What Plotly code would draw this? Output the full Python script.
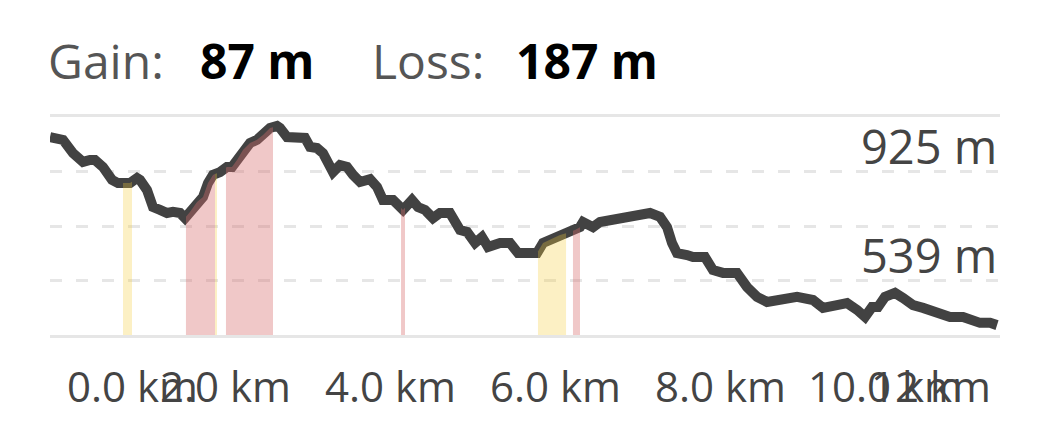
import numpy as np
import plotly.graph_objects as go

# ---------------- data ----------------
DIST_KM = [0.00, 0.158, 0.279, 0.40, 0.485, 0.545, 0.642, 0.752, 0.824, 0.97,
           1.055, 1.091, 1.176, 1.248, 1.333, 1.418, 1.491, 1.576, 1.636, 1.697,
           1.782, 1.855, 1.915, 1.976, 2.061, 2.145, 2.206, 2.267, 2.339, 2.424,
           2.509, 2.582, 2.667, 2.752, 2.788, 2.873, 2.994, 3.091, 3.152, 3.236,
           3.309, 3.394, 3.43, 3.515, 3.60, 3.673, 3.758, 3.879, 3.964, 4.036,
           4.158, 4.279, 4.388, 4.461, 4.545, 4.642, 4.727, 4.848, 4.97, 5.055,
           5.152, 5.236, 5.309, 5.455, 5.576, 5.673, 5.782, 5.903, 5.976, 6.097,
           6.182, 6.267, 6.364, 6.424, 6.461, 6.582, 6.667, 6.788, 6.909, 7.03,
           7.152, 7.273, 7.394, 7.479, 7.539, 7.60, 7.721, 7.794, 7.939, 8.036,
           8.158, 8.327, 8.448, 8.57, 8.691, 8.848, 9.055, 9.248, 9.37, 9.539,
           9.661, 9.782, 9.879, 9.964, 10.036, 10.121, 10.242, 10.339, 10.461, 10.582,
           10.752, 10.909, 11.067, 11.188, 11.273, 11.394, 11.479]
ELEV_M = [1047, 1037, 990, 959, 966, 966, 941, 895, 884, 884,
          902, 895, 859, 799, 789, 778, 782, 778, 760, 782,
          817, 835, 884, 913, 923, 941, 941, 966, 1001, 1026,
          1037, 1054, 1079, 1086, 1079, 1047, 1044, 1044, 1012, 1008,
          990, 941, 923, 948, 941, 913, 888, 898, 870, 824,
          824, 789, 824, 799, 789, 760, 778, 778, 718, 711,
          672, 693, 658, 672, 672, 636, 640, 636, 672, 689,
          700, 707, 718, 728, 746, 728, 746, 753, 764, 771,
          771, 778, 764, 728, 672, 636, 629, 622, 622, 576,
          566, 566, 516, 481, 463, 470, 481, 470, 442, 452,
          459, 435, 410, 445, 445, 481, 495, 477, 452, 442,
          427, 410, 410, 399, 389, 389, 381]

# highlighted grade segments (km start, km end, kind)
SEG_START = [0.885, 1.648, 2.000, 2.133, 4.255, 5.915, 6.339]
SEG_END   = [0.994, 2.000, 2.024, 2.703, 4.303, 6.255, 6.424]
SEG_KIND  = ["moderate", "steep", "moderate", "steep", "steep", "moderate", "steep"]

GRID_ELEV = [539, 732, 925]
ELEV_LABEL_VALUES = [925, 539]
ELEV_LABELS = ["925 m", "539 m"]

X_TICK_KM = [0, 2, 4, 6, 8, 10]
X_TICK_LABELS = ["0.0 km", "2.0 km", "4.0 km", "6.0 km", "8.0 km", "10.0 km"]
X_END_LABEL = "12 km"

GAIN_TEXT = "87 m"
LOSS_TEXT = "187 m"

# ---------------- styles ----------------
FONT = "Open Sans"
LINE_COLOR = "#424242"
GRID_COLOR = "#e6e6e6"
FILL_COLORS = {"moderate": "rgba(245,205,60,0.30)", "steep": "rgba(215,110,110,0.38)"}
Y_RANGE = [346, 1118]
X_RANGE = [0, 11.515]

fig = go.Figure()

fig.add_trace(go.Scatter(x=DIST_KM, y=ELEV_M, mode="lines",
                         line=dict(color=LINE_COLOR, width=10),
                         hoverinfo="skip", showlegend=False))

d = np.array(DIST_KM)
e = np.array(ELEV_M)
for s, t, k in zip(SEG_START, SEG_END, SEG_KIND):
    inside = (d > s) & (d < t)
    xs = np.concatenate([[s], d[inside], [t]])
    ys = np.interp(xs, d, e)
    fig.add_trace(go.Scatter(x=xs, y=ys, mode="lines", fill="tozeroy",
                             fillcolor=FILL_COLORS[k], line=dict(width=0),
                             hoverinfo="skip", showlegend=False))

annotations = []
# header
hdr = [("Gain:", -0.004, "#555555", False), (GAIN_TEXT, 0.1558, "#000000", True),
       ("Loss:", 0.3368, "#555555", False), (LOSS_TEXT, 0.4884, "#000000", True)]
for txt, xp, col, bold in hdr:
    annotations.append(dict(text=f"<b>{txt}</b>" if bold else txt, xref="paper", yref="paper",
                            x=xp, y=1, xanchor="left", yanchor="bottom", yshift=22,
                            showarrow=False, font=dict(family=FONT, size=48, color=col)))
# elevation labels
for v, lab in zip(ELEV_LABEL_VALUES, ELEV_LABELS):
    annotations.append(dict(text=lab, xref="paper", yref="y", x=1, y=v,
                            xanchor="right", yanchor="bottom", yshift=-8, xshift=-1,
                            showarrow=False, font=dict(family=FONT, size=47, color="#444444")))
# distance labels
for i, (v, lab) in enumerate(zip(X_TICK_KM, X_TICK_LABELS)):
    if i == 0:
        xa, xs_ = "left", 15
    else:
        xa, xs_ = "center", 10
    annotations.append(dict(text=lab, xref="x", yref="paper", x=v, y=0,
                            xanchor=xa, yanchor="top", xshift=xs_, yshift=-20,
                            showarrow=False, font=dict(family=FONT, size=42, color="#444444")))
annotations.append(dict(text=X_END_LABEL, xref="x", yref="paper", x=DIST_KM[-1], y=0,
                        xanchor="right", yanchor="top", xshift=-4, yshift=-20,
                        showarrow=False, font=dict(family=FONT, size=42, color="#444444")))

fig.update_layout(
    width=1040, height=440,
    margin=dict(l=42, r=48, t=109, b=113),
    paper_bgcolor="white", plot_bgcolor="white",
    showlegend=False,
    annotations=annotations,
    xaxis=dict(range=X_RANGE, showgrid=False, zeroline=False, showticklabels=False,
               ticks="", showline=True, mirror=True, linecolor=GRID_COLOR, linewidth=3,
               fixedrange=True),
    yaxis=dict(range=Y_RANGE, tickvals=GRID_ELEV, showticklabels=False, ticks="",
               showgrid=True, gridcolor=GRID_COLOR, gridwidth=3, griddash="12px,14px",
               zeroline=False, showline=False, fixedrange=True),
)

fig.write_html("out.html")
